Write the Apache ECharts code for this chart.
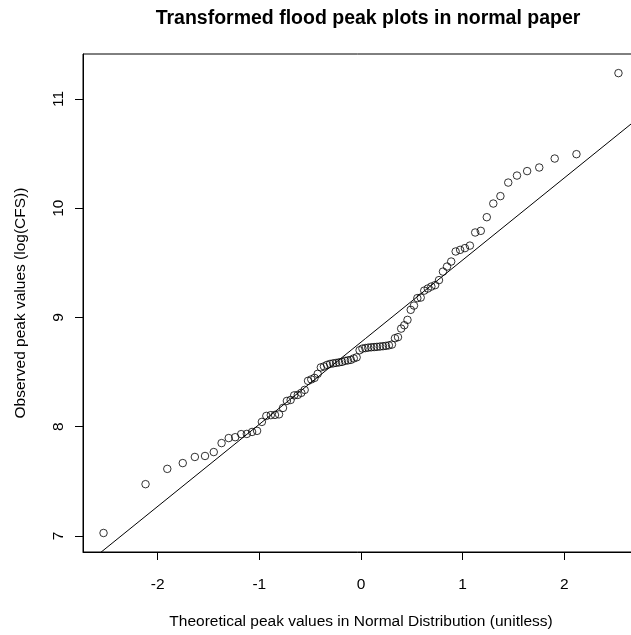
<!DOCTYPE html>
<html>
<head>
<meta charset="utf-8">
<script src="https://cdn.jsdelivr.net/npm/echarts@6/dist/echarts.min.js"></script>
<style>
  html, body { margin: 0; padding: 0; background: #ffffff; }
  #chart { width: 631px; height: 635px; }
</style>
</head>
<body>
<div id="chart"></div>
<script>
// Normal scores (theoretical quantiles) for the 88 annual peaks
const theoreticalQuantiles = [
  -2.532, -2.119, -1.905, -1.753, -1.634, -1.534, -1.448, -1.371, -1.301, -1.237,
  -1.178, -1.123, -1.071, -1.022, -0.975, -0.931, -0.887, -0.846, -0.806, -0.767,
  -0.729, -0.692, -0.657, -0.622, -0.587, -0.554, -0.521, -0.489, -0.457, -0.426,
  -0.395, -0.364, -0.334, -0.304, -0.274, -0.245, -0.216, -0.187, -0.157, -0.129,
  -0.100, -0.071, -0.043, -0.014,
   0.014,  0.043,  0.071,  0.100,  0.129,  0.157,  0.187,  0.216,  0.245,  0.274,
   0.304,  0.334,  0.364,  0.395,  0.426,  0.457,  0.489,  0.521,  0.554,  0.587,
   0.622,  0.657,  0.692,  0.729,  0.767,  0.806,  0.846,  0.887,  0.931,  0.975,
   1.022,  1.071,  1.123,  1.178,  1.237,  1.301,  1.371,  1.448,  1.534,  1.634,
   1.753,  1.905,  2.119,  2.532
];

// Sorted log-transformed flood peaks, log(CFS)
const observedLogPeaks = [
  7.027, 7.474, 7.614, 7.667, 7.723, 7.732, 7.768, 7.850, 7.896, 7.904,
  7.932, 7.934, 7.952, 7.962, 8.044, 8.099, 8.106, 8.108, 8.113, 8.172,
  8.236, 8.245, 8.287, 8.291, 8.310, 8.337, 8.420, 8.433, 8.447, 8.484,
  8.543, 8.552, 8.566, 8.575, 8.580, 8.584, 8.589, 8.593, 8.603, 8.607,
  8.612, 8.625, 8.635, 8.700,
  8.715, 8.720, 8.724, 8.727, 8.729, 8.731, 8.734, 8.737, 8.740, 8.745,
  8.752, 8.810, 8.820, 8.898, 8.929, 8.978, 9.070, 9.109, 9.177, 9.182,
  9.246, 9.265, 9.283, 9.296, 9.342, 9.420, 9.466, 9.512, 9.604, 9.619,
  9.635, 9.658, 9.778, 9.793, 9.918, 10.043, 10.111, 10.235, 10.299, 10.340,
  10.373, 10.455, 10.495, 11.237
];

const xTickValues = [-2, -1, 0, 1, 2];
const yTickValues = [7, 8, 9, 10, 11];

// Reference line through the quartiles
const fitIntercept = 8.774;
const fitSlope = 0.752;

const xRange = [-2.734, 2.734];
const yRange = [6.853, 11.412];

const FONT = 'Liberation Sans, Arial, sans-serif';

const points = theoreticalQuantiles.map((q, i) => [q, observedLogPeaks[i]]);
const fitLine = xRange.map(x => [x, fitIntercept + fitSlope * x]);

const chart = echarts.init(document.getElementById('chart'), null, { renderer: 'canvas' });

chart.setOption({
  animation: false,
  backgroundColor: '#ffffff',
  title: {
    text: 'Transformed flood peak plots in normal paper',
    left: 363,
    top: 4,
    textAlign: 'center',
    textStyle: { fontFamily: FONT, fontSize: 19.5, fontWeight: 'bold', color: '#000' }
  },
  grid: {
    left: 83,
    top: 54,
    width: 556,
    height: 498,
    show: true,
    borderColor: '#000',
    borderWidth: 1,
    backgroundColor: 'transparent',
    outerBoundsMode: 'none',
    containLabel: false
  },
  xAxis: {
    type: 'value',
    min: xRange[0],
    max: xRange[1],
    name: 'Theoretical peak values in Normal Distribution (unitless)',
    nameLocation: 'middle',
    nameGap: 62,
    nameTextStyle: { fontFamily: FONT, fontSize: 15.5, color: '#000' },
    axisLine: { show: true, onZero: false, lineStyle: { color: '#000', width: 1 } },
    axisTick: { show: true, inside: false, length: 8, customValues: xTickValues, lineStyle: { color: '#000' } },
    axisLabel: { customValues: xTickValues, margin: 25, fontFamily: FONT, fontSize: 15.5, color: '#000' },
    splitLine: { show: false }
  },
  yAxis: {
    type: 'value',
    min: yRange[0],
    max: yRange[1],
    name: 'Observed peak values (log(CFS))',
    nameLocation: 'middle',
    nameGap: 54,
    nameTextStyle: { fontFamily: FONT, fontSize: 15.5, color: '#000' },
    axisLine: { show: true, onZero: false, lineStyle: { color: '#000', width: 1 } },
    axisTick: { show: true, inside: false, length: 8, customValues: yTickValues, lineStyle: { color: '#000' } },
    axisLabel: { customValues: yTickValues, rotate: 90, margin: 16, fontFamily: FONT, fontSize: 15.5, color: '#000' },
    splitLine: { show: false }
  },
  series: [
    {
      type: 'line',
      data: fitLine,
      showSymbol: false,
      clip: true,
      silent: true,
      lineStyle: { color: '#000', width: 1 },
      z: 1
    },
    {
      type: 'scatter',
      data: points,
      symbol: 'circle',
      symbolSize: 7.5,
      silent: true,
      itemStyle: { color: 'rgba(0,0,0,0)', borderColor: '#000', borderWidth: 1 },
      z: 2
    }
  ]
});
</script>
</body>
</html>
